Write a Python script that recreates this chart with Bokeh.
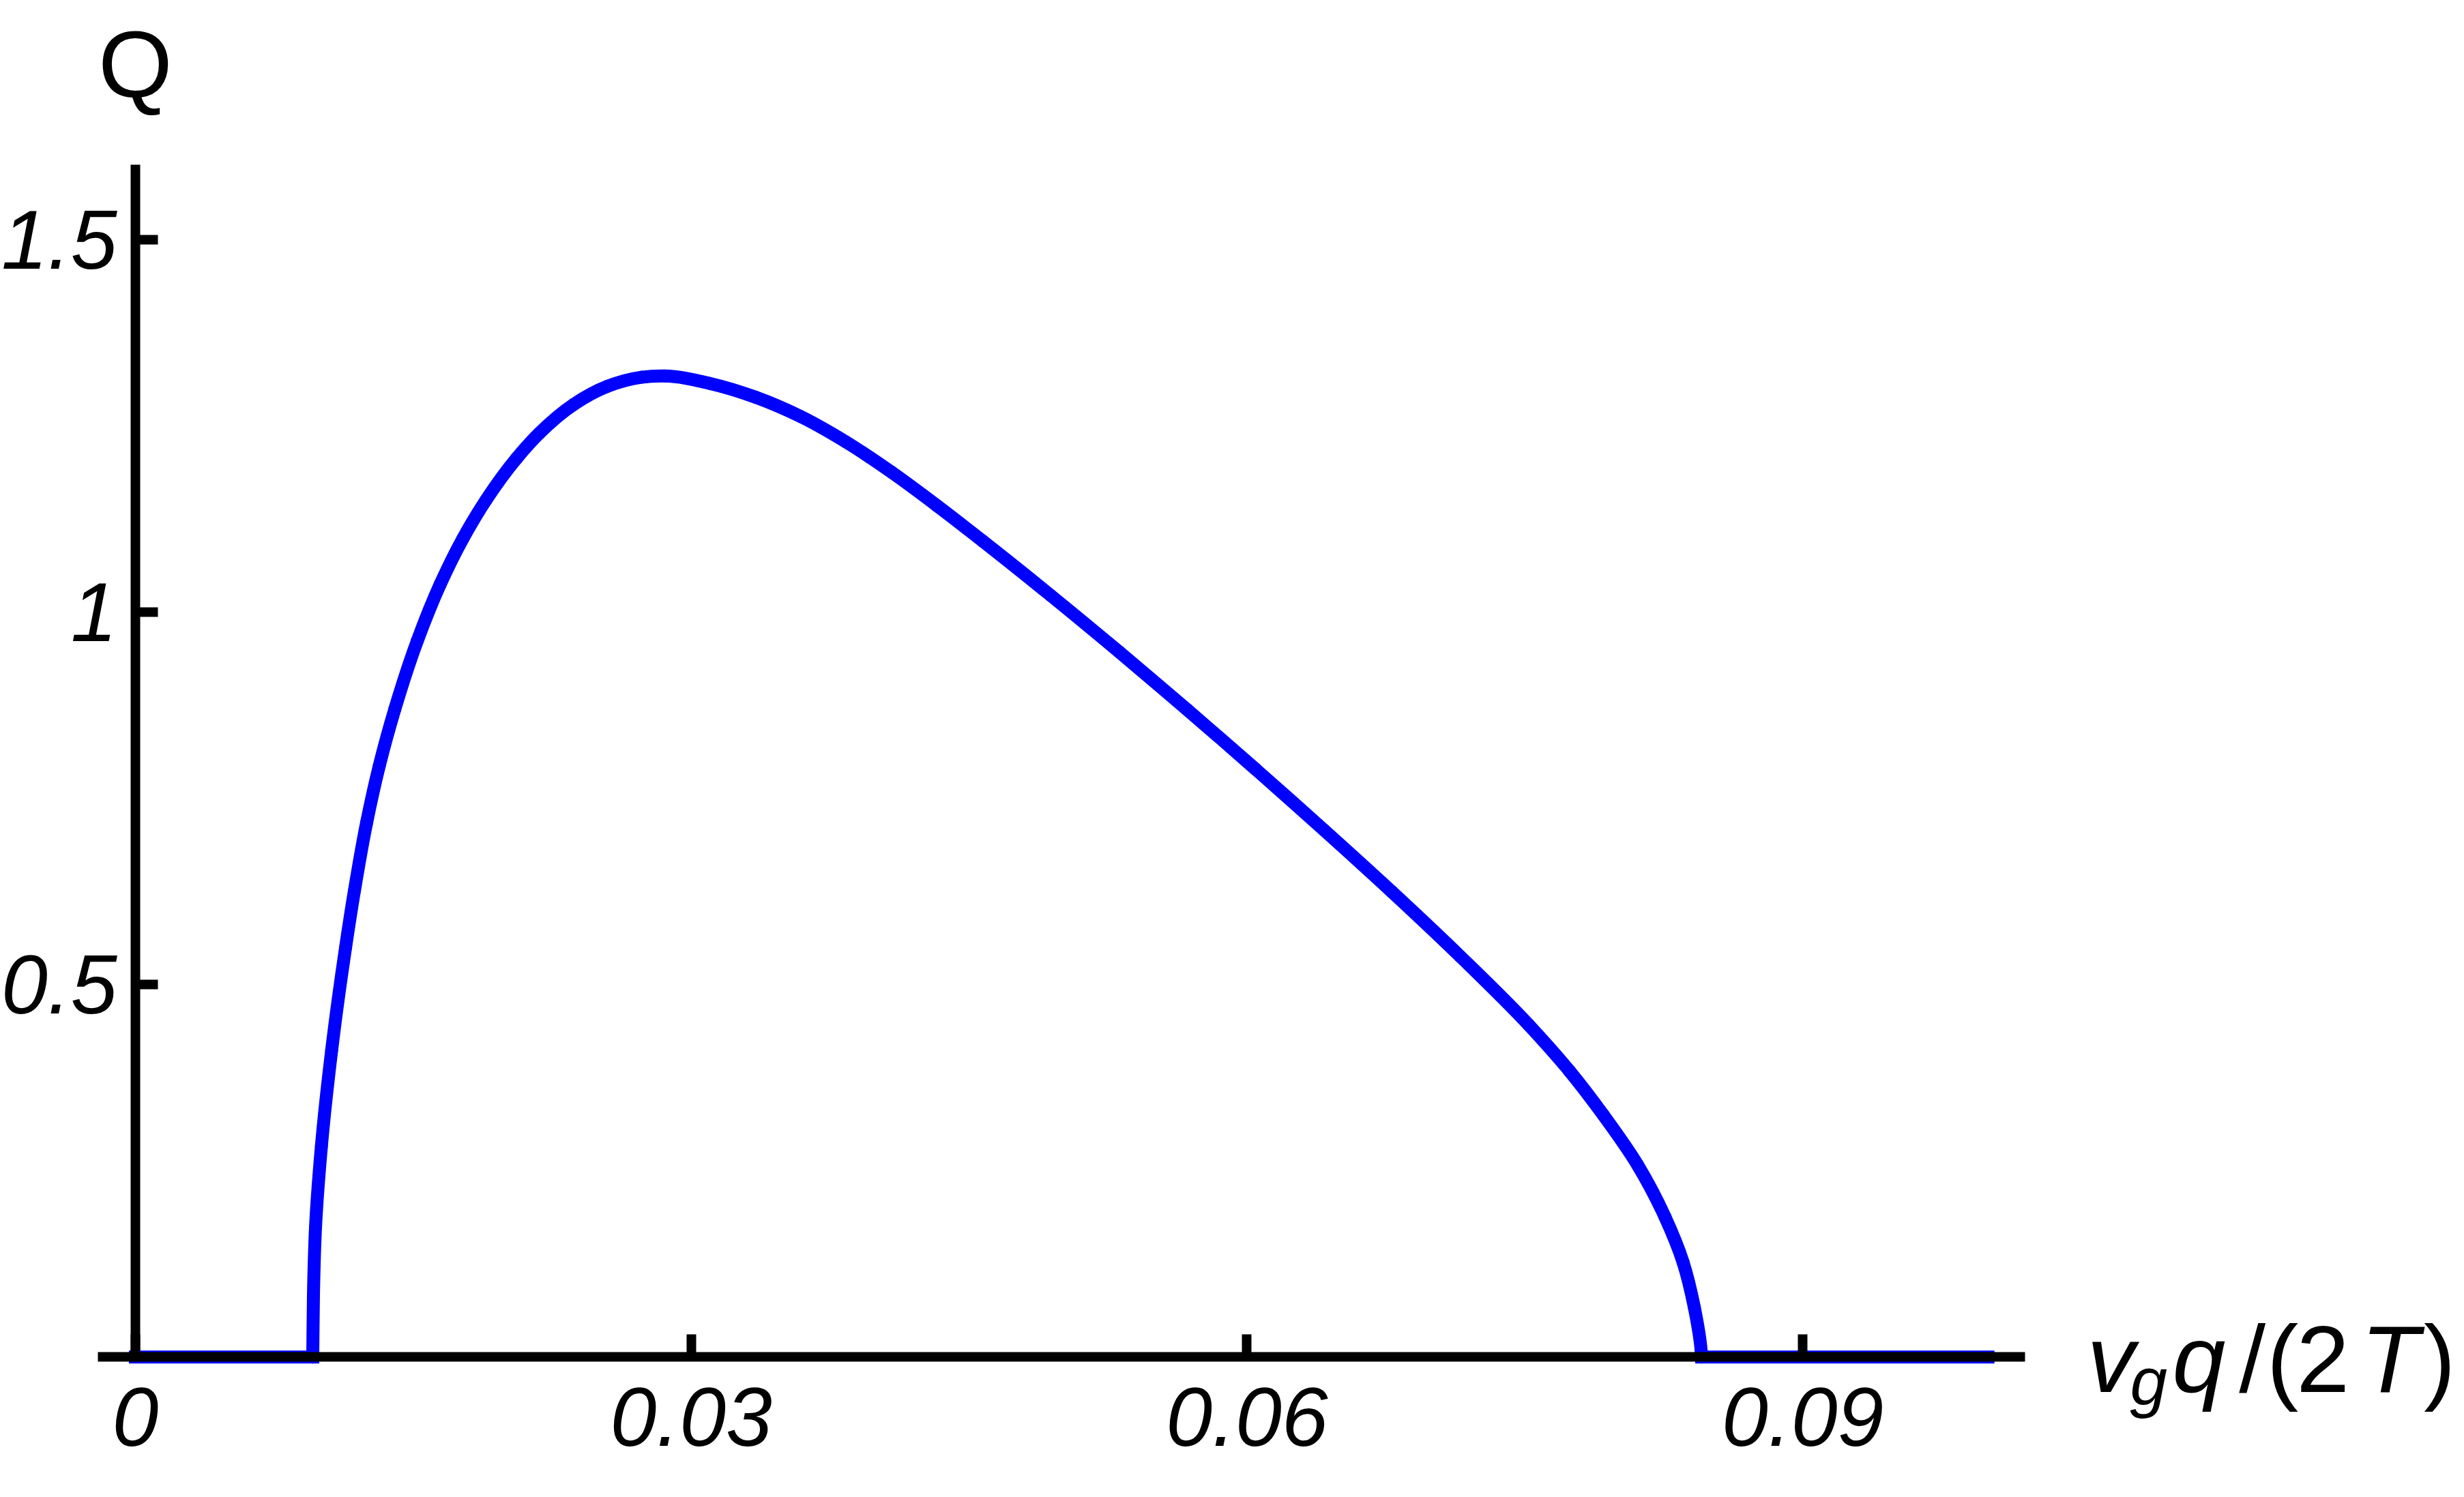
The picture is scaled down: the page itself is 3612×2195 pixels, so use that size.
import math
from bokeh.plotting import figure
from bokeh.models import LinearAxis, FixedTicker, Range1d, Label, ColumnDataSource
from bokeh.embed import file_html
from bokeh.resources import INLINE

# ---- data ----
# flat parts of the curve (Q = 0)
flat_left_x = [0.0, 0.009574]
flat_right_x = [0.084546, 0.1]
# curved part, from the left zero to the right zero
q_x = [0.009574, 0.00961, 0.009722, 0.01004, 0.010594, 0.011342, 0.011820,
       0.012479, 0.013164, 0.014004, 0.015215, 0.016456, 0.017675, 0.018927,
       0.020574, 0.021800, 0.023641, 0.025482, 0.027324, 0.028550, 0.031005,
       0.033461, 0.035913, 0.038370, 0.040825, 0.043278, 0.045734, 0.049416,
       0.053098, 0.056781, 0.060463, 0.064146, 0.067828, 0.071510, 0.075192,
       0.077402, 0.079243, 0.081084, 0.082557, 0.083540, 0.084151, 0.084519,
       0.084546]
q_y = [0.0, 0.0824, 0.1739, 0.283, 0.4120, 0.5493, 0.6256,
       0.7171, 0.7935, 0.8697, 0.9613, 1.0375, 1.0986, 1.1505,
       1.2064, 1.2401, 1.2785, 1.3031, 1.3153, 1.3170, 1.3070,
       1.2886, 1.2625, 1.2282, 1.1876, 1.1427, 1.0954, 1.0222,
       0.9466, 0.8688, 0.7892, 0.7077, 0.6244, 0.5379, 0.4463,
       0.3842, 0.3247, 0.2580, 0.1886, 0.1275, 0.0665, 0.0085,
       0.0]

x_ticks = [0, 0.03, 0.06, 0.09]
x_tick_labels = ["0", "0.03", "0.06", "0.09"]
y_ticks = [0.5, 1.0, 1.5]
y_tick_labels = ["0.5", "1", "1.5"]
y_title = "Q"
x_title_parts = ["v", "g", "q", "/", "(", "2", "T", ")"]
x_title_italic = [True, True, True, False, False, False, True, False]

FONT = "Liberation Sans"
W, H = 3600, 2190
X0, X1 = -0.0072909, 0.1252723
Y0, Y1 = -0.183741, 1.821203

p = figure(width=W, height=H,
           x_range=Range1d(X0, X1), y_range=Range1d(Y0, Y1),
           x_axis_type=None, y_axis_type=None,
           output_backend="svg", toolbar_location=None, min_border=0)
p.title.visible = False
p.outline_line_color = None
p.background_fill_color = "white"
p.border_fill_color = "white"
p.xgrid.visible = False
p.ygrid.visible = False

BLUE = "#0000ff"
LW = 19

# flat parts
p.line(flat_left_x, [0.0, 0.0], line_color=BLUE, line_width=LW, line_cap="square")
p.line(flat_right_x, [0.0, 0.0], line_color=BLUE, line_width=LW, line_cap="square")

# curved part: smooth cubic (Hermite / Catmull-Rom, chord-length parametrised)
# through the read points, drawn with Bokeh's bezier glyph
SX = W / (X1 - X0)
SY = H / (Y1 - Y0)
n = len(q_x)
h = [math.hypot((q_x[i + 1] - q_x[i]) * SX, (q_y[i + 1] - q_y[i]) * SY) for i in range(n - 1)]
mx, my = [], []
for i in range(n):
    if i == 0:
        mx.append((q_x[1] - q_x[0]) / h[0]); my.append((q_y[1] - q_y[0]) / h[0])
    elif i == n - 1:
        mx.append((q_x[-1] - q_x[-2]) / h[-1]); my.append((q_y[-1] - q_y[-2]) / h[-1])
    else:
        a, b = h[i - 1], h[i]
        sx0 = (q_x[i] - q_x[i - 1]) / a; sy0 = (q_y[i] - q_y[i - 1]) / a
        sx1 = (q_x[i + 1] - q_x[i]) / b; sy1 = (q_y[i + 1] - q_y[i]) / b
        mx.append((sx0 * b + sx1 * a) / (a + b))
        my.append((sy0 * b + sy1 * a) / (a + b))
bz = dict(x0=[], y0=[], x1=[], y1=[], cx0=[], cy0=[], cx1=[], cy1=[])
for i in range(n - 1):
    d = h[i] / 3.0
    bz["x0"].append(q_x[i]); bz["y0"].append(q_y[i])
    bz["x1"].append(q_x[i + 1]); bz["y1"].append(q_y[i + 1])
    bz["cx0"].append(q_x[i] + mx[i] * d); bz["cy0"].append(q_y[i] + my[i] * d)
    bz["cx1"].append(q_x[i + 1] - mx[i + 1] * d); bz["cy1"].append(q_y[i + 1] - my[i + 1] * d)
src = ColumnDataSource(bz)
p.bezier(x0="x0", y0="y0", x1="x1", y1="y1", cx0="cx0", cy0="cy0", cx1="cx1", cy1="cy1",
         source=src, line_color=BLUE, line_width=LW, line_cap="round")


def style_axis(ax, standoff):
    ax.axis_line_color = "black"
    ax.axis_line_width = 14
    ax.major_tick_line_color = "black"
    ax.major_tick_line_width = 14
    ax.major_tick_in = 33
    ax.major_tick_out = 0
    ax.minor_tick_line_color = None
    ax.major_label_text_font = FONT
    ax.major_label_text_font_style = "italic"
    ax.major_label_text_font_size = "122px"
    ax.major_label_text_color = "black"
    ax.major_label_standoff = standoff


xaxis = LinearAxis(fixed_location=0, bounds=(-0.002025, 0.102),
                   ticker=FixedTicker(ticks=x_ticks, minor_ticks=[]),
                   major_label_overrides={float(t): l for t, l in zip(x_ticks, x_tick_labels)})
style_axis(xaxis, 45)
p.add_layout(xaxis, "below")

yaxis = LinearAxis(fixed_location=0, bounds=(-0.0064, 1.6006),
                   ticker=FixedTicker(ticks=y_ticks, minor_ticks=[]),
                   major_label_overrides={float(t): l for t, l in zip(y_ticks, y_tick_labels)})
style_axis(yaxis, 27)
p.add_layout(yaxis, "left")

# y-axis title
p.add_layout(Label(x=0, y=1.7351, text=y_title, text_align="center",
                   text_baseline="alphabetic", text_font=FONT,
                   text_font_size="140px", text_color="black"))

# x-axis title, built from pieces (v_g q /(2T))
x_title_pos = [0.10664, 0.10867, 0.11139, 0.11427, 0.11590, 0.11808, 0.12170, 0.12438]
for txt, it, xp in zip(x_title_parts, x_title_italic, x_title_pos):
    sub = (txt == "g")
    p.add_layout(Label(x=xp, y=(-0.0327 if sub else -0.0025), text=txt,
                       text_align="center", text_baseline="alphabetic",
                       text_font=FONT,
                       text_font_style=("italic" if it else "normal"),
                       text_font_size=("98px" if sub else "140px"),
                       text_color="black"))

open("out.html", "w").write(file_html(p, INLINE))
